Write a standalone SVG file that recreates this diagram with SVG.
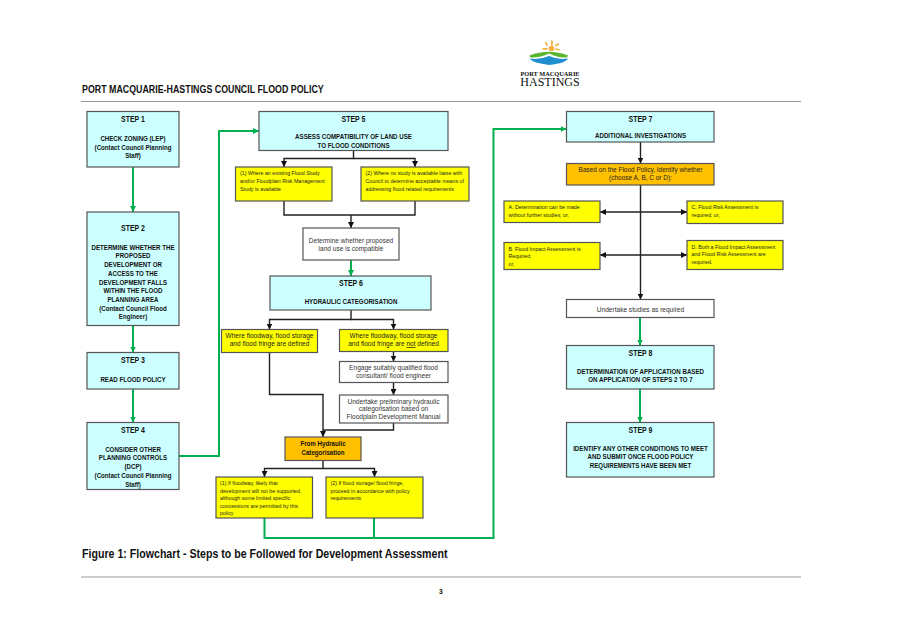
<svg xmlns="http://www.w3.org/2000/svg" width="906" height="641" viewBox="0 0 906 641">
<style>
text{font-family:"Liberation Sans",Arial,sans-serif;fill:#111}
.box{stroke:#555;stroke-width:1.2}
.step{fill:#ccffff}.y{fill:#ffff00}.o{fill:#ffc000}.w{fill:#fff}
.b{font-size:7.600px;font-weight:bold;text-anchor:middle}
.st{font-size:8.600px;font-weight:bold;text-anchor:middle}
.s{font-size:6px;fill:#222}
.m{font-size:7.200px;text-anchor:middle;fill:#333}
.ym{font-size:7.200px;text-anchor:middle;fill:#222}
.g{fill:none;stroke:#00b050;stroke-width:2}
.k{fill:none;stroke:#222;stroke-width:1.400}
.rule{stroke:#999;stroke-width:1.200}
.serif{font-family:"Liberation Serif",serif}
</style>
<defs>
<marker id="ag" viewBox="0 0 6 6" refX="6" refY="3" markerWidth="6" markerHeight="6" markerUnits="userSpaceOnUse" orient="auto-start-reverse"><path d="M0 0L6 3L0 6Z" fill="#00b050"/></marker>
<marker id="ak" viewBox="0 0 6 6" refX="6" refY="3" markerWidth="6" markerHeight="6" markerUnits="userSpaceOnUse" orient="auto-start-reverse"><path d="M0 0L6 3L0 6Z" fill="#111"/></marker>
</defs>
<rect width="906" height="641" fill="#fff"/>
<g id="header">
<text transform="translate(82 92.500) scale(.886 1)" font-size="10" font-weight="bold">PORT MACQUARIE-HASTINGS COUNCIL FLOOD POLICY</text>
<line class="rule" x1="81" y1="101.500" x2="801" y2="101.500"/>
</g>
<g id="logo">
<g fill="#f6b042"><circle cx="551.500" cy="48.500" r="2.800"/><rect x="551" y="40.500" width="1.800" height="5"/><path d="M544.500 42.500l1.500-.8 2.200 3.600-1.500.8zM558.500 43l.9 1.400-3.600 2-.9-1.400z"/><rect x="542.500" y="48" width="5" height="1.800"/><path d="M555 49.500l.4-1.400 4.600 1.300-.4 1.400z"/></g>
<path d="M529.500 55.500Q549 48 568 55.500Q568 57 566 57.500Q558 58 549 53.500Q540 58 531 57.500Q529.500 57 529.500 55.500Z" fill="#5bb531"/>
<path d="M529.500 58.500Q540 60 549 56Q558 60 568 58.500Q566 63 549 65Q533 63 529.500 58.500Z" fill="#1f8fcf"/>
<text class="serif" transform="translate(550 75.600) scale(1.020 1)" font-size="6.200" font-weight="bold" text-anchor="middle">PORT MACQUARIE</text>
<text class="serif" transform="translate(550 86) scale(.960 1)" font-size="12.500" text-anchor="middle">HASTINGS</text>
</g>
<g id="connectors">
<path class="g" marker-end="url(#ag)" d="M133 167V212"/>
<path class="g" marker-end="url(#ag)" d="M133 325.500V352.500"/>
<path class="g" marker-end="url(#ag)" d="M133 389V422.500"/>
<path class="g" marker-end="url(#ag)" d="M179 456H219V131H259"/>
<path class="g" marker-end="url(#ag)" d="M351 260V276"/>
<path class="g" marker-end="url(#ag)" d="M264.500 518V538H493.500V129H566.500"/>
<path class="g" d="M374 518V538"/>
<path class="g" marker-end="url(#ag)" d="M640 317.500V345.500"/>
<path class="g" marker-end="url(#ag)" d="M640 389V422.500"/>
<path class="k" marker-end="url(#ak)" d="M353.500 150.500V158.500H284V167"/>
<path class="k" marker-end="url(#ak)" d="M353.500 158.500H415V167"/>
<path class="k" d="M284 201V215H415V201"/>
<path class="k" marker-end="url(#ak)" d="M351 215V228"/>
<path class="k" marker-end="url(#ak)" d="M351 310V319.500H269.500V329.500"/>
<path class="k" marker-end="url(#ak)" d="M351 319.500H393.500V329.500"/>
<path class="k" marker-end="url(#ak)" d="M393.500 351.500V361.500"/>
<path class="k" marker-end="url(#ak)" d="M393.500 382.500V395"/>
<path class="k" marker-end="url(#ak)" d="M269.500 352.500V394.500H323V437"/>
<path class="k" d="M393.500 423V430H323"/>
<path class="k" marker-end="url(#ak)" d="M323 460.500V468.500H264.500V477"/>
<path class="k" marker-end="url(#ak)" d="M323 468.500H374.500V477"/>
<path class="k" marker-end="url(#ak)" d="M640.500 142V163.500"/>
<path class="k" marker-end="url(#ak)" d="M640.500 185V299.500"/>
<path class="k" marker-start="url(#ak)" marker-end="url(#ak)" d="M600 212H687"/>
<path class="k" marker-start="url(#ak)" marker-end="url(#ak)" d="M600 255H687"/>
</g>
<g id="step1"><rect class="box step" x="87" y="111.500" width="92" height="55.500"/><g transform="translate(133 0) scale(.81 1)"><text class="st" y="122">STEP 1</text><text class="b" y="141">CHECK ZONING (LEP)</text><text class="b" y="150">(Contact Council Planning</text><text class="b" y="158.500">Staff)</text></g></g>
<g id="step2"><rect class="box step" x="87" y="212" width="92" height="113.500"/><g transform="translate(133 0) scale(.81 1)"><text class="st" y="231">STEP 2</text><text class="b" y="250">DETERMINE WHETHER THE</text><text class="b" y="258.500">PROPOSED</text><text class="b" y="267.500">DEVELOPMENT OR</text><text class="b" y="276">ACCESS TO THE</text><text class="b" y="285">DEVELOPMENT FALLS</text><text class="b" y="293.500">WITHIN THE FLOOD</text><text class="b" y="302">PLANNING AREA</text><text class="b" y="311">(Contact Council Flood</text><text class="b" y="319.500">Engineer)</text></g></g>
<g id="step3"><rect class="box step" x="87" y="352.500" width="92" height="36.500"/><g transform="translate(133 0) scale(.81 1)"><text class="st" y="363">STEP 3</text><text class="b" y="382">READ FLOOD POLICY</text></g></g>
<g id="step4"><rect class="box step" x="87" y="422.500" width="92" height="67"/><g transform="translate(133 0) scale(.81 1)"><text class="st" y="433">STEP 4</text><text class="b" y="452">CONSIDER OTHER</text><text class="b" y="460.500">PLANNING CONTROLS</text><text class="b" y="469.500">(DCP)</text><text class="b" y="478">(Contact Council Planning</text><text class="b" y="487">Staff)</text></g></g>
<g id="step5"><rect class="box step" x="259" y="111.500" width="189" height="39"/><g transform="translate(353.500 0) scale(.81 1)"><text class="st" y="122">STEP 5</text><text class="b" y="139.500">ASSESS COMPATIBILITY OF LAND USE</text><text class="b" y="148">TO FLOOD CONDITIONS</text></g></g>
<g id="note1"><rect class="box y" x="235.500" y="167" width="96.500" height="34"/><g transform="translate(240 0) scale(.88 1)"><text class="s" y="175.500">(1) Where an existing Flood Study</text><text class="s" y="183">and/or Floodplain Risk Management</text><text class="s" y="191">Study is available</text></g></g>
<g id="note2"><rect class="box y" x="361" y="167" width="108" height="34"/><g transform="translate(365.500 0) scale(.88 1)"><text class="s" y="175.500">(2) Where no study is available liaise with</text><text class="s" y="183">Council to determine acceptable means of</text><text class="s" y="191">addressing flood related requirements</text></g></g>
<g id="compatible"><rect class="box w" x="303" y="228" width="96" height="32"/><g transform="translate(351 0) scale(.91 1)"><text class="m" y="243.500">Determine whether proposed</text><text class="m" y="251">land use is compatible</text></g></g>
<g id="step6"><rect class="box step" x="270" y="276" width="161" height="34"/><g transform="translate(351 0) scale(.81 1)"><text class="st" y="286">STEP 6</text><text class="b" y="304">HYDRAULIC CATEGORISATION</text></g></g>
<g id="defined"><rect class="box y" x="221.500" y="329.500" width="96" height="23"/><g transform="translate(269.500 0) scale(.91 1)"><text class="ym" y="338.500">Where floodway, flood storage</text><text class="ym" y="346">and flood fringe are defined</text></g></g>
<g id="notdefined"><rect class="box y" x="339.500" y="329.500" width="108.500" height="22"/><g transform="translate(393.500 0) scale(.91 1)"><text class="ym" y="338.500">Where floodway, flood storage</text><text class="ym" y="346">and flood fringe are <tspan text-decoration="underline">not</tspan> defined</text></g></g>
<g id="engage"><rect class="box w" x="339.500" y="361.500" width="108.500" height="21"/><g transform="translate(393.500 0) scale(.91 1)"><text class="m" y="370.500">Engage suitably qualified flood</text><text class="m" y="378">consultant/ flood engineer</text></g></g>
<g id="prelim"><rect class="box w" x="339.500" y="395" width="108.500" height="28"/><g transform="translate(393.500 0) scale(.91 1)"><text class="m" y="404">Undertake preliminary hydraulic</text><text class="m" y="411.500">categorisation based on</text><text class="m" y="419">Floodplain Development Manual</text></g></g>
<g id="from"><rect class="box o" x="285" y="437" width="76" height="23.500"/><g transform="translate(323 0) scale(.81 1)"><text class="b" y="446.500">From Hydraulic</text><text class="b" y="455">Categorisation</text></g></g>
<g id="floodway"><rect class="box y" x="216" y="477" width="96.500" height="41"/><g transform="translate(220 0) scale(.88 1)"><text class="s" y="485.500">(1) If floodway, likely that</text><text class="s" y="493">development will not be supported,</text><text class="s" y="500.500">although some limited specific</text><text class="s" y="508">concessions are permitted by this</text><text class="s" y="515.500">policy</text></g></g>
<g id="fringe"><rect class="box y" x="326" y="477" width="97" height="41"/><g transform="translate(330.500 0) scale(.88 1)"><text class="s" y="485.500">(2) If flood storage/ flood fringe,</text><text class="s" y="493">proceed in accordance with policy</text><text class="s" y="500.500">requirements</text></g></g>
<g id="step7"><rect class="box step" x="566.500" y="111.500" width="147.500" height="30.500"/><g transform="translate(640.500 0) scale(.81 1)"><text class="st" y="122">STEP 7</text><text class="b" y="138.500">ADDITIONAL INVESTIGATIONS</text></g></g>
<g id="based"><rect class="box o" x="566.500" y="163.500" width="147.500" height="21.500"/><g transform="translate(640.500 0) scale(.9 1)"><text class="ym" y="172.500">Based on the Flood Policy, Identify whether</text><text class="ym" y="180">(choose A, B, C or D):</text></g></g>
<g id="optA"><rect class="box y" x="504" y="201" width="96" height="21.500"/><g transform="translate(508.500 0) scale(.88 1)"><text class="s" y="209.500">A. Determination can be made</text><text class="s" y="217">without further studies; or,</text></g></g>
<g id="optC"><rect class="box y" x="687" y="201" width="96" height="22.500"/><g transform="translate(691.500 0) scale(.88 1)"><text class="s" y="209.500">C. Flood Risk Assessment is</text><text class="s" y="217">required; or,</text></g></g>
<g id="optB"><rect class="box y" x="504" y="242.500" width="96" height="27"/><g transform="translate(508.500 0) scale(.88 1)"><text class="s" y="251">B. Flood Impact Assessment is</text><text class="s" y="258.500">Required;</text><text class="s" y="266">or,</text></g></g>
<g id="optD"><rect class="box y" x="687" y="240.500" width="96" height="29"/><g transform="translate(691.500 0) scale(.88 1)"><text class="s" y="249">D. Both a Flood Impact Assessment</text><text class="s" y="256.500">and Flood Risk Assessment are</text><text class="s" y="264.500">required.</text></g></g>
<g id="studies"><rect class="box w" x="566.500" y="299.500" width="147.500" height="18"/><g transform="translate(640.500 0) scale(.91 1)"><text class="m" y="312">Undertake studies as required</text></g></g>
<g id="step8"><rect class="box step" x="566.500" y="345.500" width="147.500" height="43.500"/><g transform="translate(640.500 0) scale(.81 1)"><text class="st" y="356">STEP 8</text><text class="b" y="374">DETERMINATION OF APPLICATION BASED</text><text class="b" y="382.500">ON APPLICATION OF STEPS 2 TO 7</text></g></g>
<g id="step9"><rect class="box step" x="566.500" y="422.500" width="147.500" height="54.500"/><g transform="translate(640.500 0) scale(.81 1)"><text class="st" y="433">STEP 9</text><text class="b" y="451">IDENTIFY ANY OTHER CONDITIONS TO MEET</text><text class="b" y="459.500">AND SUBMIT ONCE FLOOD POLICY</text><text class="b" y="468">REQUIREMENTS HAVE BEEN MET</text></g></g>
<g id="footer">
<text transform="translate(82 558) scale(.85 1)" font-size="12.500" font-weight="bold">Figure 1: Flowchart - Steps to be Followed for Development Assessment</text>
<line class="rule" x1="81" y1="577" x2="801" y2="577"/>
<text transform="translate(441 594) scale(.85 1)" font-size="8" font-weight="bold" text-anchor="middle">3</text>
</g>
</svg>
